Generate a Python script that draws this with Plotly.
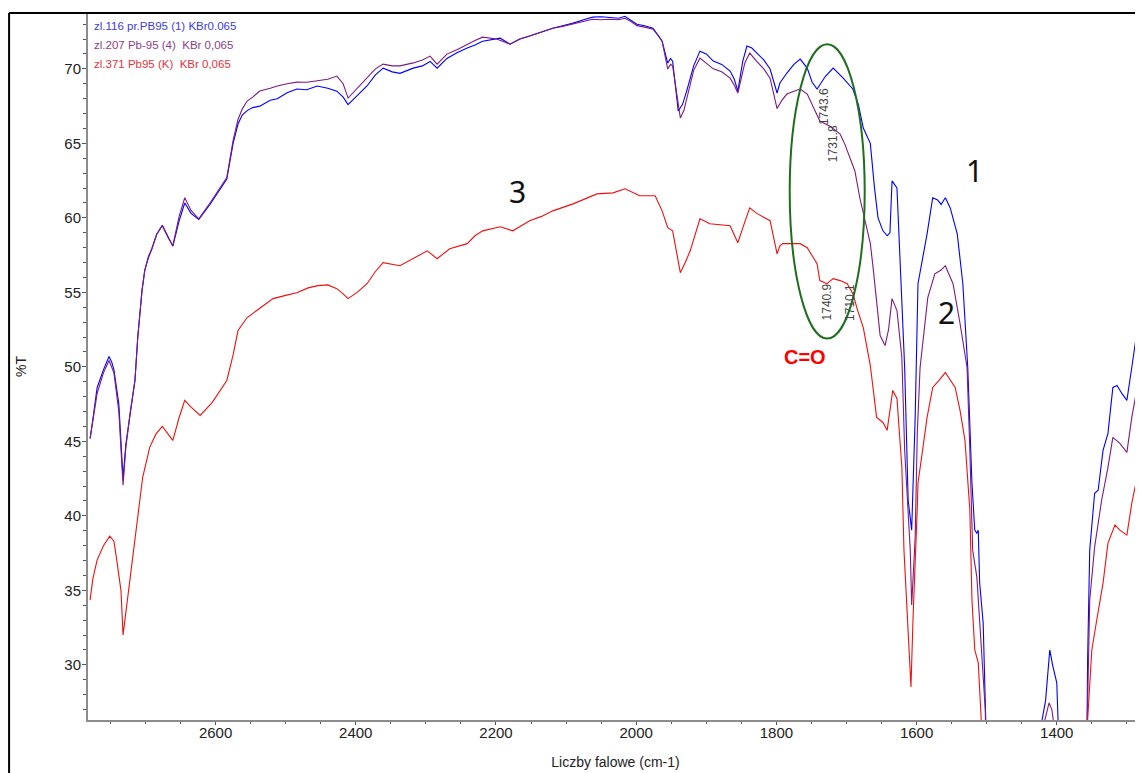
import plotly.graph_objects as go

# ---------------- data ----------------
wn_1 = [2779, 2777, 2775, 2769, 2760, 2752, 2748, 2745, 2738, 2735, 2732, 2728, 2722, 2715, 2711, 2705,
        2701, 2696, 2691, 2684, 2676, 2668, 2661, 2652, 2644, 2635, 2624, 2608, 2592, 2584, 2575, 2568,
        2562, 2555, 2547, 2537, 2522, 2512, 2498, 2484, 2470, 2455, 2440, 2427, 2418, 2411, 2398,
        2384, 2372, 2361, 2348, 2337, 2318, 2305, 2294, 2284, 2270, 2255, 2241, 2230, 2219, 2199,
        2194, 2180, 2166, 2152, 2135, 2119, 2105, 2090, 2075, 2062, 2050, 2037, 2025, 2016, 2008,
        1999, 1988, 1976, 1968, 1963, 1955, 1951, 1948, 1940, 1934, 1928, 1918, 1909, 1900, 1890,
        1878, 1866, 1860, 1855, 1848, 1842, 1835, 1828, 1818, 1809, 1799, 1795, 1785, 1775, 1766,
        1756, 1749, 1742, 1730, 1719, 1705, 1691, 1683, 1676, 1666, 1660, 1655, 1648, 1642, 1638,
        1635, 1628, 1621, 1617, 1612, 1607, 1602, 1598, 1585, 1577, 1570, 1565, 1559, 1552, 1542,
        1534, 1527, 1521, 1517, 1514, 1512, 1510, 1505, 1501, 1495, 1430, 1421, 1416, 1413, 1410,
        1406, 1400, 1398, 1390, 1360, 1358, 1356, 1353, 1346, 1341, 1334, 1327, 1320, 1314, 1307,
        1300, 1293, 1284, 1277]
t_1 = [45.2, 46.0, 46.5, 48.6, 49.8, 50.7, 50.3, 49.8, 47.5, 45.0, 42.5, 44.8, 46.9, 49.1, 52.0, 55.1,
       56.5, 57.3, 57.9, 58.9, 59.5, 58.7, 58.1, 59.8, 61.0, 60.3, 59.9, 60.9, 62.0, 62.6, 65.0, 66.3,
       66.9, 67.2, 67.4, 67.5, 67.9, 68.0, 68.4, 68.65, 68.6, 68.85, 68.7, 68.5, 68.1, 67.6, 68.2,
       68.85, 69.6, 70.05, 69.8, 69.7, 70.05, 70.2, 70.5, 70.05, 70.7, 71.1, 71.4, 71.6, 71.86, 72.0,
       72.06, 71.66, 72.0, 72.2, 72.5, 72.73, 72.9, 73.07, 73.3, 73.47, 73.5, 73.47, 73.4, 73.53, 73.3,
       73.0, 72.9, 72.73, 72.2, 71.86, 70.39, 70.7, 70.52, 67.17, 67.6, 68.51, 70.2, 71.19, 71.0, 70.52,
       70.3, 69.85, 69.3, 68.51, 70.5, 71.53, 71.4, 71.06, 70.6, 69.99, 68.38, 69.05, 69.72, 70.3, 70.66,
       70.05, 69.1, 68.65, 69.5, 70.05, 69.4, 68.65, 67.6, 66.03, 65.0, 62.0, 60.0, 59.13, 58.8, 59.0,
       62.48, 62.01, 54.65, 49.96, 41.05, 39.04, 46.6, 55.58, 58.93, 61.35, 61.2, 60.9, 61.35, 60.67, 58.93,
       55.58, 49.96, 42.19, 39.04, 38.84, 39.04, 35.49, 32.81, 26.52, 15.0, 15.0, 26.3, 27.6, 29.5, 31.0,
       30.0, 28.8, 26.0, 15.0, 15.0, 20.0, 30.33, 37.7, 41.52, 41.72, 44.4, 45.54, 48.62, 48.75, 48.2,
       47.75, 49.96, 52.91, 52.3]

wn_2 = [2779, 2775, 2769, 2760, 2752, 2745, 2738, 2735, 2732, 2728, 2722, 2715, 2711, 2705, 2701, 2696,
        2691, 2684, 2676, 2668, 2661, 2652, 2644, 2635, 2624, 2608, 2592, 2584, 2575, 2568, 2562,
        2555, 2547, 2537, 2522, 2512, 2498, 2484, 2470, 2455, 2440, 2427, 2418, 2411, 2398, 2384,
        2372, 2361, 2348, 2337, 2318, 2305, 2294, 2284, 2270, 2255, 2241, 2230, 2219, 2199, 2180,
        2166, 2152, 2135, 2119, 2105, 2090, 2075, 2062, 2050, 2037, 2025, 2016, 2008, 1999, 1988,
        1976, 1968, 1963, 1955, 1951, 1948, 1937, 1932, 1928, 1918, 1909, 1900, 1890, 1878, 1866,
        1860, 1855, 1845, 1838, 1828, 1818, 1809, 1799, 1792, 1785, 1775, 1766, 1756, 1749, 1742,
        1738, 1724, 1709, 1702, 1695, 1688, 1681, 1674, 1666, 1662, 1656, 1652, 1645, 1640, 1635,
        1628, 1621, 1617, 1609, 1607, 1602, 1599, 1595, 1584, 1574, 1565, 1559, 1548, 1538, 1528,
        1524, 1520, 1514, 1507, 1502, 1498, 1420, 1417, 1414, 1411, 1407, 1405, 1400, 1360, 1357,
        1353, 1346, 1336, 1327, 1320, 1310, 1300, 1293, 1284, 1277]
t_2 = [45.2, 46.3, 48.2, 49.6, 50.43, 49.6, 47.0, 44.5, 42.06, 44.6, 46.88, 49.09, 51.97, 55.12, 56.46, 57.4,
       57.93, 58.9, 59.47, 58.7, 58.13, 60.1, 61.35, 60.5, 59.94, 61.0, 62.1, 62.7, 65.2, 66.6, 67.3,
       67.84, 68.1, 68.51, 68.7, 68.85, 69.0, 69.11, 69.1, 69.18, 69.3, 69.52, 69.0, 68.04, 68.7, 69.4,
       70.0, 70.32, 70.2, 70.2, 70.4, 70.6, 70.86, 70.32, 70.99, 71.3, 71.66, 71.9, 72.13, 72.0, 71.66,
       72.0, 72.2, 72.5, 72.73, 72.85, 73.0, 73.2, 73.33, 73.3, 73.33, 73.3, 73.4, 73.2, 72.9, 72.8,
       72.66, 72.2, 71.86, 69.99, 70.3, 70.2, 66.7, 67.2, 68.0, 69.9, 70.72, 70.4, 70.0, 69.8, 69.38,
       68.9, 68.38, 70.4, 71.06, 70.5, 70.0, 69.38, 67.34, 67.9, 68.31, 68.5, 68.65, 68.31, 67.6, 66.97,
       66.5, 66.17, 65.63, 64.9, 64.02, 63.15, 61.35, 59.81, 58.27, 56.66, 54.0, 52.1, 51.43, 52.5, 54.58,
       53.78, 50.63, 44.4, 37.7, 34.02, 38.57, 45.54, 49.96, 54.65, 56.25, 56.5, 56.79, 55.58, 52.91, 49.96,
       44.4, 37.7, 35.89, 31.0, 26.98, 15.0, 15.0, 26.3, 27.0, 27.45, 27.0, 26.3, 15.0, 15.0, 25.0,
       34.35, 37.9, 41.05, 43.26, 45.27, 44.87, 44.26, 46.61, 48.95, 48.42]

wn_3 = [2779, 2775, 2769, 2760, 2751, 2745, 2741, 2735, 2732, 2728, 2722, 2711, 2704, 2694, 2685, 2676,
        2668, 2661, 2652, 2644, 2635, 2622, 2605, 2584, 2575, 2568, 2555, 2541, 2518, 2500, 2484,
        2468, 2454, 2440, 2427, 2418, 2411, 2398, 2384, 2372, 2361, 2337, 2318, 2298, 2284, 2266,
        2241, 2230, 2219, 2194, 2176, 2152, 2135, 2119, 2090, 2072, 2056, 2033, 2016, 1995, 1973,
        1963, 1955, 1948, 1937, 1930, 1923, 1909, 1895, 1866, 1855, 1846, 1838, 1828, 1809, 1799,
        1795, 1791, 1766, 1756, 1742, 1738, 1728, 1719, 1709, 1699, 1691, 1684, 1676, 1666, 1657,
        1648, 1642, 1634, 1628, 1621, 1618, 1608, 1605, 1599, 1598, 1585, 1577, 1568, 1559, 1545,
        1538, 1531, 1527, 1524, 1521, 1517, 1512, 1508, 1503, 1360, 1356, 1350, 1343, 1334, 1327,
        1317, 1310, 1300, 1293, 1284, 1277]
t_3 = [34.35, 35.8, 37.03, 38.0, 38.64, 38.3, 37.03, 35.0, 32.01, 33.5, 35.69, 39.91, 42.59, 44.6, 45.5, 46.01,
       45.5, 45.07, 46.6, 47.75, 47.3, 46.74, 47.6, 49.09, 50.8, 52.44, 53.31, 53.78, 54.58, 54.8, 54.98,
       55.3, 55.45, 55.5, 55.25, 54.9, 54.58, 55.0, 55.58, 56.4, 56.99, 56.79, 57.26, 57.79, 57.26, 57.93,
       58.27, 58.8, 59.13, 59.4, 59.13, 59.81, 60.1, 60.47, 60.94, 61.3, 61.61, 61.68, 61.95, 61.48, 61.48,
       60.47, 59.34, 59.13, 56.32, 57.0, 57.79, 59.94, 59.6, 59.47, 58.33, 59.6, 60.67, 60.3, 59.81, 57.59,
       58.13, 58.27, 58.27, 58.0, 56.92, 55.79, 55.58, 55.92, 55.79, 55.58, 54.92, 53.78, 52.64, 50.09, 46.61,
       46.27, 45.74, 48.42, 47.88, 43.26, 37.7, 28.52, 33.21, 40.58, 42.19, 46.61, 48.62, 49.1, 49.62, 48.62,
       47.08, 45.07, 42.19, 40.38, 34.35, 31.0, 30.13, 26.52, 15.0, 15.0, 26.3, 31.0, 33.01, 35.49, 38.17,
       39.38, 39.04, 38.71, 40.85, 42.93, 42.39]

series_names = ["zl.116 pr.PB95 (1) KBr0.065",
                "zl.207 Pb-95 (4)  KBr 0,065",
                "zl.371 Pb95 (K)  KBr 0,065"]
series_colors = ["#0000ff", "#7d1b7e", "#ee1111"]
legend_colors = ["#3c3ce0", "#8c3d8c", "#e8323a"]

x_range = [2782, 1277]
y_range = [26.3, 73.75]
x_ticks = [2600, 2400, 2200, 2000, 1800, 1600, 1400]
y_ticks = [30, 35, 40, 45, 50, 55, 60, 65, 70]

# curve number labels (wavenumber, %T, text)
curve_labels = [(1517, 63.15, "1"), (1557, 53.64, "2"), (2169, 61.75, "3")]
# peak labels (wavenumber, %T, text)
peak_labels = [(1732, 67.44, "1743.6"), (1719, 64.96, "1731.8"),
               (1728, 54.38, "1740.9"), (1696, 54.31, "1710.1")]
co_label = (1759, 50.69, "C=O")
ellipse_box = (1781, 1674, 51.9, 71.66)

FONT = "Liberation Sans, Arial, sans-serif"

fig = go.Figure()
for wn, t, name, col in zip([wn_1, wn_2, wn_3], [t_1, t_2, t_3], series_names, series_colors):
    fig.add_trace(go.Scatter(x=wn, y=t, mode="lines", name=name,
                             line=dict(color=col, width=1.1), showlegend=False))

annotations = []
for i, (name, col) in enumerate(zip(series_names, legend_colors)):
    annotations.append(dict(x=0.004, y=0.981 - i * 0.0264, xref="paper", yref="paper",
                            text=name, showarrow=False, xanchor="left", yanchor="middle",
                            font=dict(family=FONT, size=11.5, color=col)))
for x, y, txt in curve_labels:
    annotations.append(dict(x=x, y=y, text=txt, showarrow=False,
                            font=dict(family="Noto Sans, " + FONT, size=30, color="#111111")))
for x, y, txt in peak_labels:
    annotations.append(dict(x=x, y=y, text=txt, showarrow=False, textangle=-90,
                            font=dict(family=FONT, size=12, color="#444444")))
annotations.append(dict(x=co_label[0], y=co_label[1], text="<b>" + co_label[2] + "</b>",
                        showarrow=False, font=dict(family=FONT, size=20, color="#ff0000")))

shapes = [
    dict(type="circle", xref="x", yref="y", x0=ellipse_box[0], x1=ellipse_box[1],
         y0=ellipse_box[2], y1=ellipse_box[3], line=dict(color="#1f6e1f", width=2)),
    # outer frame (top and left)
    dict(type="line", xref="paper", yref="paper", x0=-0.0748, x1=1.0, y0=1.0, y1=1.0,
         line=dict(color="#000000", width=2)),
    dict(type="line", xref="paper", yref="paper", x0=-0.0748, x1=-0.0748, y0=1.0, y1=-0.08,
         line=dict(color="#000000", width=2)),
]

# the page body adds an 8px offset, so the figure is 8px smaller on each side
fig.update_layout(
    width=1135, height=765,
    margin=dict(l=80, r=0, t=5, b=53),
    paper_bgcolor="white", plot_bgcolor="white",
    font=dict(family=FONT, size=15, color="#222222"),
    annotations=annotations, shapes=shapes,
    showlegend=False,
)
fig.update_xaxes(range=x_range, autorange=False, tickvals=x_ticks,
                 showgrid=False, zeroline=False, showline=True, linecolor="#8c8c8c", linewidth=2,
                 ticks="outside", ticklen=3, tickcolor="#555555", ticklabelstandoff=-5,
                 minor=dict(dtick=50, tick0=0, ticks="outside", ticklen=2, tickcolor="#555555"),
                 tickfont=dict(size=15, color="#222222"),
                 title=dict(text="Liczby falowe (cm-1)", font=dict(size=14, color="#222222"), standoff=17))
fig.update_yaxes(range=y_range, autorange=False, tickvals=y_ticks,
                 showgrid=False, zeroline=False, showline=True, linecolor="#8c8c8c", linewidth=2,
                 ticks="outside", ticklen=4, tickcolor="#555555", ticklabelstandoff=-2,
                 minor=dict(dtick=1, tick0=0, ticks="outside", ticklen=3, tickcolor="#555555"),
                 tickfont=dict(size=15, color="#222222"),
                 title=dict(text="%T", font=dict(size=14, color="#222222"), standoff=34))

fig.write_html("out.html")
